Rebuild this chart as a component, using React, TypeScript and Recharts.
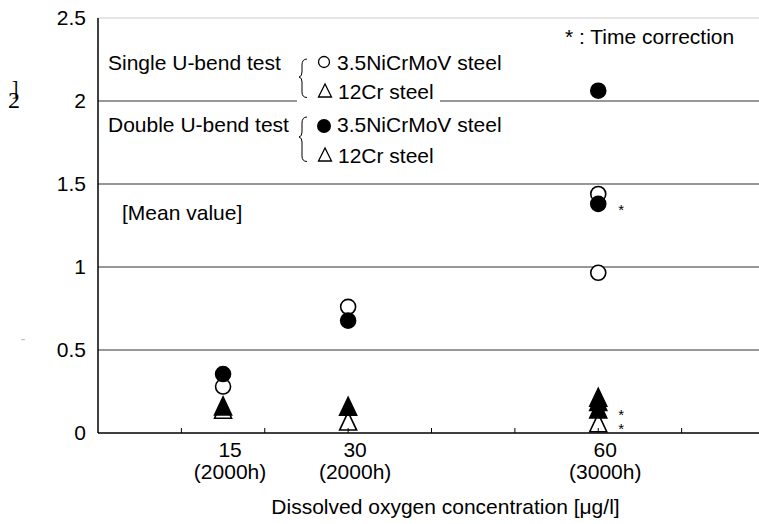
import React from 'react';
import { ScatterChart, Scatter, XAxis, YAxis, ReferenceLine } from 'recharts';

// ---- data ----
const xTickValues = [10, 20, 30, 40, 50, 60, 70];
const xLabelValues = [15, 30, 60];
const xLabelHours = ['(2000h)', '(2000h)', '(3000h)'];
const yTickValues = [0, 0.5, 1, 1.5, 2, 2.5];
const gridValues = [0.5, 1, 1.5, 2];

// Single U-bend test, 3.5NiCrMoV steel (open circle)
const singleNiX = [15, 30, 60, 60];
const singleNiY = [0.28, 0.76, 1.44, 0.965];
const singleNiNote = ['', '', '', ''];
// Single U-bend test, 12Cr steel (open triangle)
const single12X = [15, 30, 60];
const single12Y = [0.143, 0.072, 0.062];
const single12Note = ['', '', '*'];
// Double U-bend test, 3.5NiCrMoV steel (filled circle)
const doubleNiX = [15, 30, 60, 60];
const doubleNiY = [0.355, 0.677, 2.062, 1.38];
const doubleNiNote = ['', '', '', '*'];
// Double U-bend test, 12Cr steel (filled triangle)
const double12X = [15, 30, 60, 60, 60];
const double12Y = [0.163, 0.161, 0.215, 0.19, 0.145];
const double12Note = ['', '', '', '', '*'];

const build = (xs: number[], ys: number[], notes: string[]) =>
  xs.map((x, i) => ({ x, y: ys[i], note: notes[i] }));

const singleNi = build(singleNiX, singleNiY, singleNiNote);
const single12 = build(single12X, single12Y, single12Note);
const doubleNi = build(doubleNiX, doubleNiY, doubleNiNote);
const double12 = build(double12X, double12Y, double12Note);

const allXTicks = Array.from(new Set([...xTickValues, ...xLabelValues])).sort((a, b) => a - b);

const FONT = '"Liberation Sans", Arial, sans-serif';
const FS = 21;

const Note = ({ p }: any) =>
  p.payload && p.payload.note ? (
    <text x={p.cx + 23} y={p.cy + 6} textAnchor="middle" dominantBaseline="central" fontFamily={FONT} fontSize={15} fill="#000">
      {p.payload.note}
    </text>
  ) : null;

const circleShape = (filled: boolean) => (p: any) => (
  <g>
    <circle cx={p.cx} cy={p.cy} r={7.5} fill={filled ? '#000' : '#fff'} stroke="#000" strokeWidth={1.6} />
    <Note p={p} />
  </g>
);

const triangleShape = (filled: boolean) => (p: any) => (
  <g>
    <polygon
      points={`${p.cx},${p.cy - 9} ${p.cx - 8.5},${p.cy + 9} ${p.cx + 8.5},${p.cy + 9}`}
      fill={filled ? '#000' : '#fff'}
      stroke="#000"
      strokeWidth={1.6}
      strokeLinejoin="miter"
    />
    <Note p={p} />
  </g>
);

const XTick = (props: any) => {
  const { x, y, payload } = props;
  const v = payload.value;
  const idx = xLabelValues.indexOf(v);
  return (
    <g>
      {xTickValues.includes(v) && <line x1={x} x2={x} y1={y} y2={y - 5} stroke="#000" strokeWidth={1} />}
      {idx >= 0 && (
        <g fontFamily={FONT} fontSize={FS} fill="#000">
          <text x={x + 7} y={y + 16} textAnchor="middle" dominantBaseline="central">
            {v}
          </text>
          <text x={x + 7} y={y + 38} textAnchor="middle" dominantBaseline="central">
            {xLabelHours[idx]}
          </text>
        </g>
      )}
    </g>
  );
};

const Overlay = () => (
  <svg width={759} height={524} style={{ position: 'absolute', left: 0, top: 0, pointerEvents: 'none' }}>
    <rect x={297} y={42} width={143} height={128} fill="#fff" />
    <g fontFamily={FONT} fontSize={FS} fill="#000">
      <text x={108} y={62} dominantBaseline="central">Single U-bend test</text>
      <text x={337} y={62} dominantBaseline="central">3.5NiCrMoV steel</text>
      <text x={338} y={91} dominantBaseline="central">12Cr steel</text>
      <text x={108} y={124} dominantBaseline="central">Double U-bend test</text>
      <text x={337} y={124} dominantBaseline="central">3.5NiCrMoV steel</text>
      <text x={338} y={155} dominantBaseline="central">12Cr steel</text>
      <text x={122} y={212} dominantBaseline="central">[Mean value]</text>
      <text x={565} y={36} dominantBaseline="central">* : Time correction</text>
    </g>
    <circle cx={324} cy={62} r={5.5} fill="#fff" stroke="#000" strokeWidth={1.3} />
    <polygon points="325,84 318.5,97 331.5,97" fill="#fff" stroke="#000" strokeWidth={1.3} />
    <circle cx={324} cy={126} r={7} fill="#000" />
    <polygon points="325,148 318.5,161 331.5,161" fill="#fff" stroke="#000" strokeWidth={1.3} />
    <path d="M307,59 Q302,59 302,65 L302,72 Q302,76.5 299,77 Q302,77.5 302,82 L302,92 Q302,97.5 307,97.5" fill="none" stroke="#000" strokeWidth={1} />
    <path d="M307,117 Q302,117 302,123 L302,132 Q302,136.5 299,137 Q302,137.5 302,142 L302,156 Q302,161.5 307,161.5" fill="none" stroke="#000" strokeWidth={1} />
    <text x={15} y={95} textAnchor="middle" fontFamily='"Liberation Serif", serif' fontSize={20} fill="#000">]</text>
    <text x={14} y={108} textAnchor="middle" fontFamily='"Liberation Serif", serif' fontSize={24} fill="#000">2</text>
    <text x={23} y={344} textAnchor="middle" fontFamily={FONT} fontSize={14} fill="#bbb">-</text>
  </svg>
);

export default function App() {
  return (
    <div style={{ position: 'absolute', left: 0, top: 0, width: 759, height: 524, overflow: 'hidden', background: '#fff' }}>
      <ScatterChart width={765} height={524} margin={{ top: 18, right: 0, bottom: 0, left: 0 }}>
        <XAxis
          xAxisId="x"
          type="number"
          dataKey="x"
          domain={[0, 80]}
          ticks={allXTicks}
          interval={0}
          height={91}
          tickSize={0}
          tickMargin={0}
          tick={XTick}
          tickLine={false}
          axisLine={{ stroke: '#000', strokeWidth: 1.5 }}
          label={{
            value: 'Dissolved oxygen concentration [μg/l]',
            position: 'insideBottom',
            offset: 10,
            dx: 14,
            fill: '#000',
            fontSize: FS,
            fontFamily: FONT,
          }}
        />
        <YAxis
          yAxisId="y"
          type="number"
          dataKey="y"
          domain={[0, 2.5]}
          ticks={yTickValues}
          width={98}
          tickLine={false}
          tickMargin={6}
          axisLine={{ stroke: '#000', strokeWidth: 1.5 }}
          tick={{ fill: '#000', fontSize: FS, fontFamily: FONT }}
        />
        <ReferenceLine xAxisId="x" yAxisId="y" y={2.5} stroke="#ccc" strokeWidth={1} />
        {gridValues.map((v) => (
          <ReferenceLine key={v} xAxisId="x" yAxisId="y" y={v} stroke="#333" strokeWidth={1.2} />
        ))}
        <Scatter xAxisId="x" yAxisId="y" data={singleNi} shape={circleShape(false)} isAnimationActive={false} />
        <Scatter xAxisId="x" yAxisId="y" data={single12} shape={triangleShape(false)} isAnimationActive={false} />
        <Scatter xAxisId="x" yAxisId="y" data={double12} shape={triangleShape(true)} isAnimationActive={false} />
        <Scatter xAxisId="x" yAxisId="y" data={doubleNi} shape={circleShape(true)} isAnimationActive={false} />
      </ScatterChart>
      <Overlay />
    </div>
  );
}
